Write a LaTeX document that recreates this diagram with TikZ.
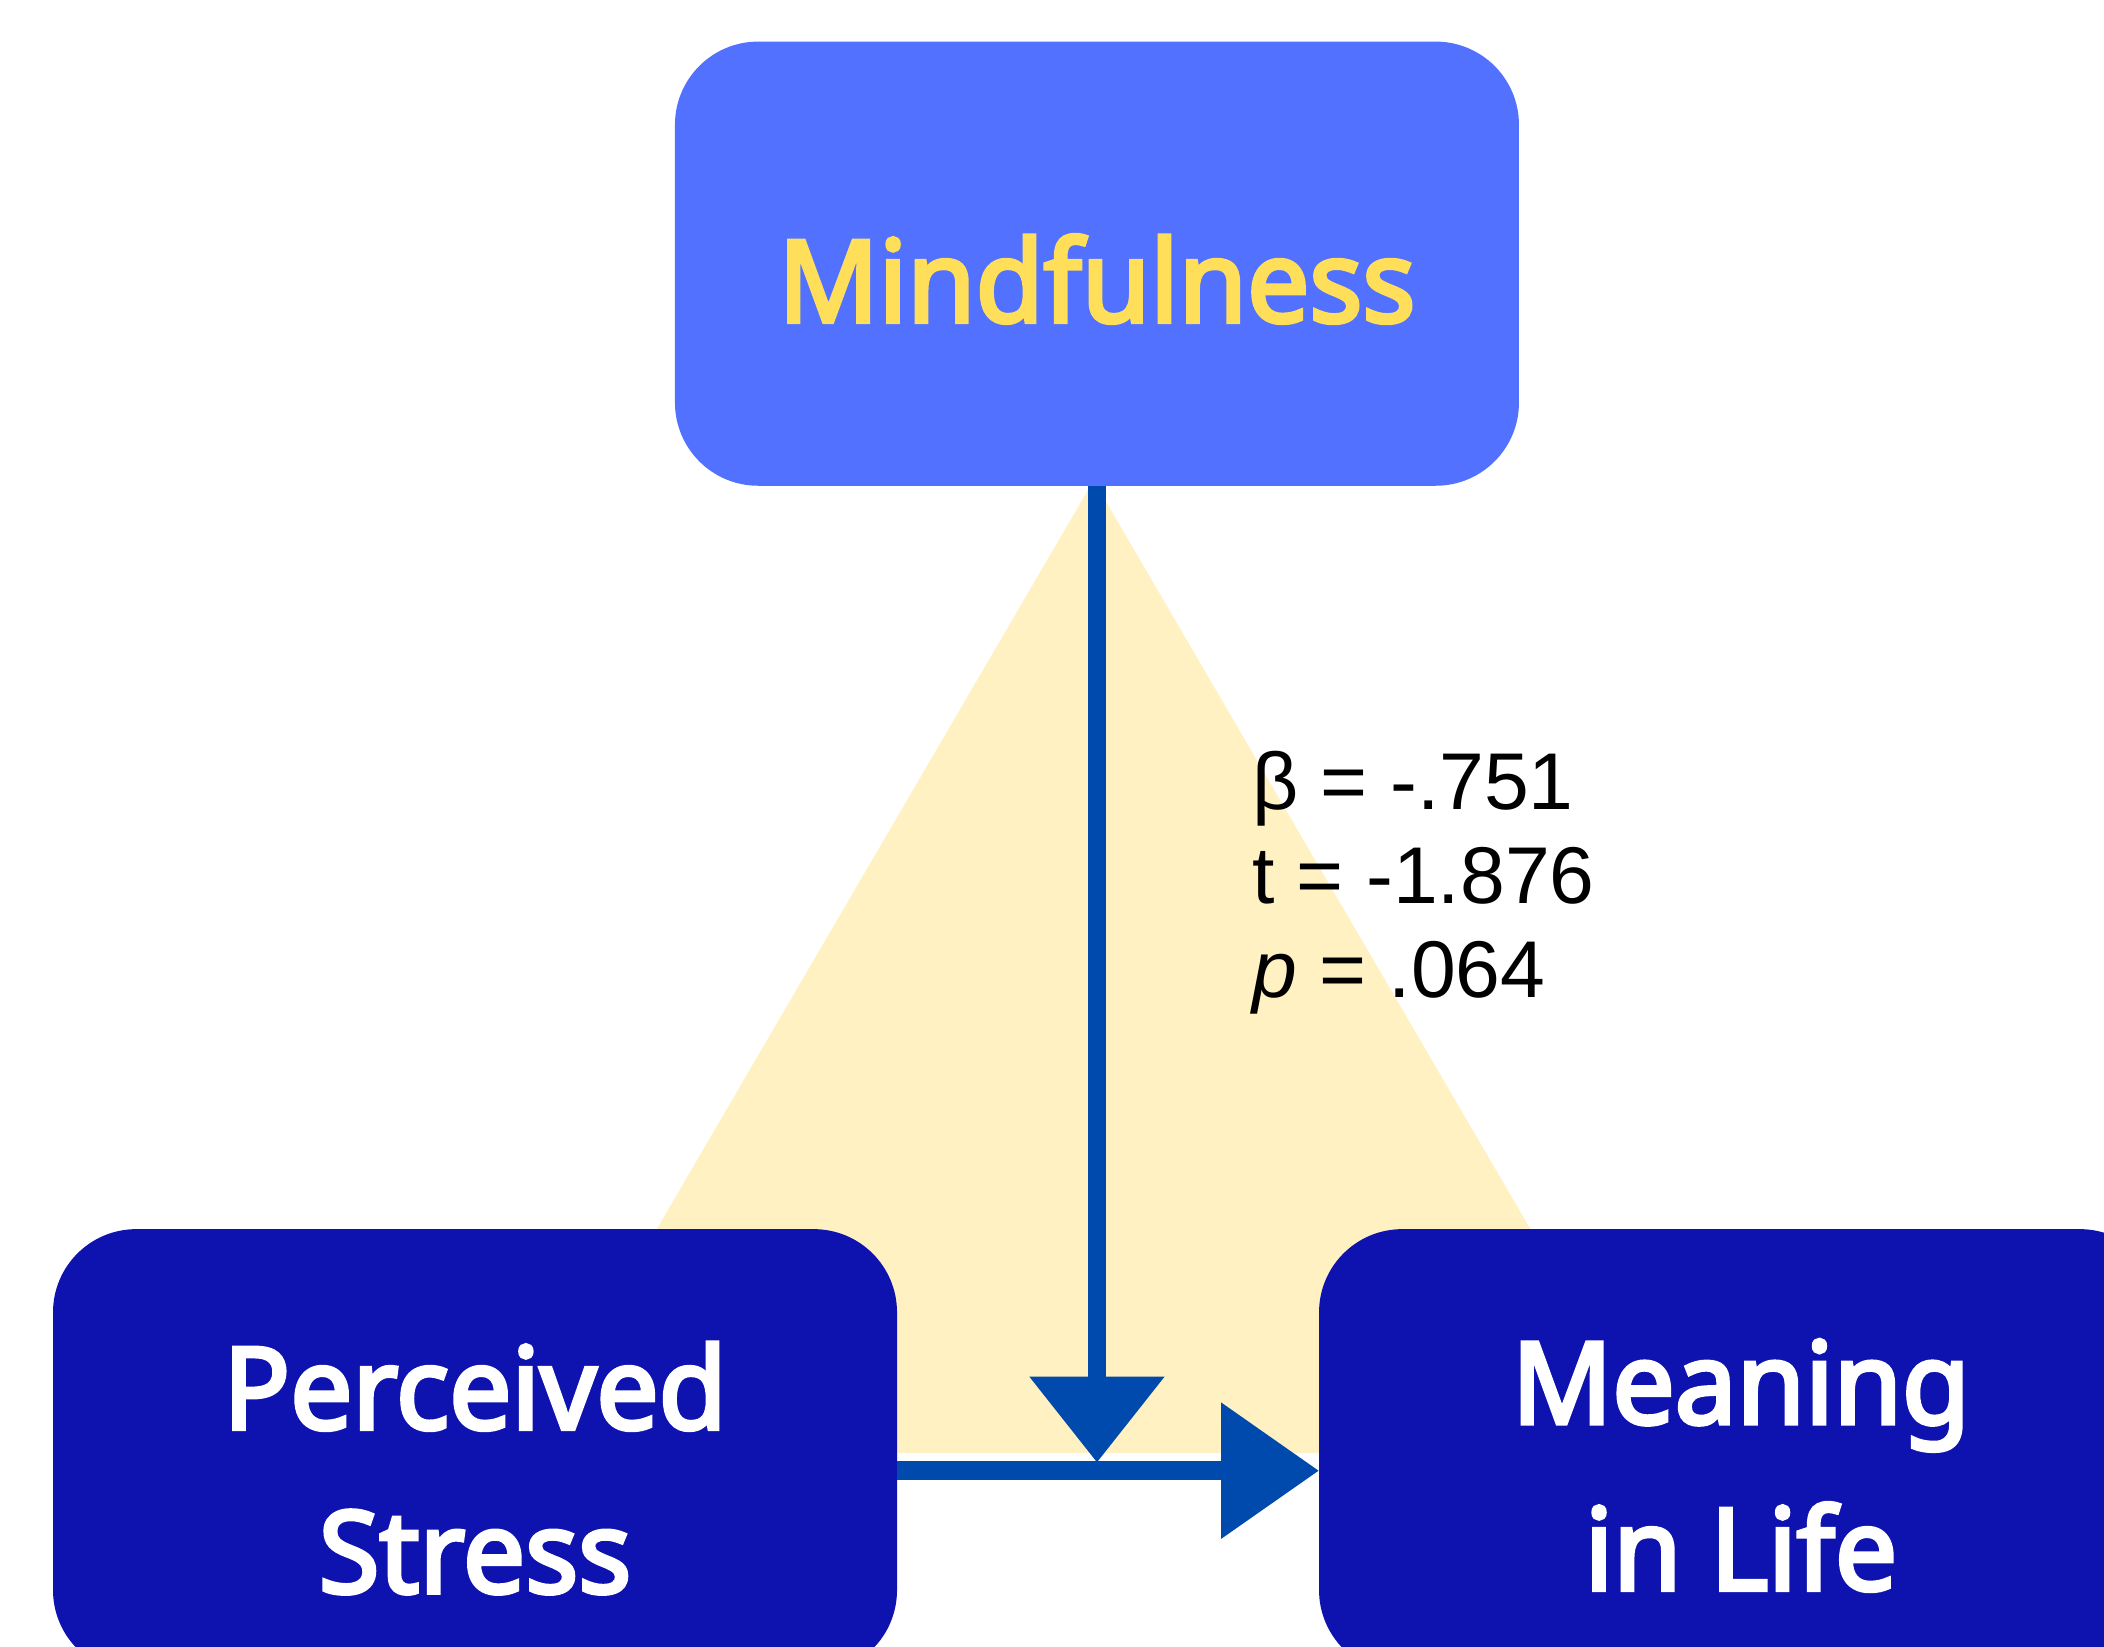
\documentclass[tikz,border=0pt]{standalone}
\usepackage{fontspec}
\usetikzlibrary{arrows.meta}
\newfontfamily\boxfont[FakeStretch=0.97,FakeBold=3.5]{Noto Sans}
\newfontfamily\statfont{Liberation Sans}
\definecolor{topblue}{HTML}{5271FF}
\definecolor{darkblue}{HTML}{0E13B0}
\definecolor{arrowblue}{HTML}{004AAD}
\definecolor{labelyellow}{HTML}{FFDE59}
\definecolor{paleyellow}{HTML}{FFF1C1}
\begin{document}
\begin{tikzpicture}[x=1pt,y=-1pt,
  varbox/.style={rounded corners=62pt, minimum width=629pt, minimum height=331pt, inner sep=0pt, outer sep=0pt},
  boxlabel/.style={anchor=base, inner sep=0pt, font=\boxfont\fontsize{85}{114}\selectfont},
  statline/.style={anchor=base west, inner sep=0pt, font=\statfont\fontsize{60}{70}\selectfont},
  conn/.style={draw=arrowblue, line width=14pt}
]
\useasboundingbox (0,0) rectangle (1568,1227);
\clip (0,0) rectangle (1568,1227);
\fill[paleyellow] (815,358) -- (392,1083) -- (1238,1083) -- cycle;
\node[varbox, fill=topblue] (mind) at (817.5,196.5) {};
\node[varbox, fill=darkblue] (stress) at (354,1081.5) {};
\node[varbox, fill=darkblue] (meaning) at (1297.5,1081.5) {};
\coordinate (join) at (817.5,1090);
\coordinate (hy) at (0,1096);
\draw[conn, -{Triangle[width=97pt,length=64pt]}] (mind.south) -- (join);
\draw[conn, -{Triangle[width=98pt,length=73pt]}] (stress.east |- hy) -- (meaning.west |- hy);
\node[boxlabel, text=labelyellow] (mindlabel) at (817.5,240) {Mindfulness};
\node[boxlabel, text=white] (ps1) at (354,1065) {Perceived};
\node[boxlabel, text=white] (ps2) at (354,1187) {Stress};
\node[boxlabel, text=white] (ml1) at (1297.5,1061) {Meaning};
\node[boxlabel, text=white] (ml2) at (1297.5,1185) {in Life};
\node[statline] (beta) at (933,603) {β = -.751};
\node[statline] (tval) at (933,673) {t = -1.876};
\node[statline] (pval) at (933,743) {\textit{p} = .064};
\end{tikzpicture}
\end{document}
